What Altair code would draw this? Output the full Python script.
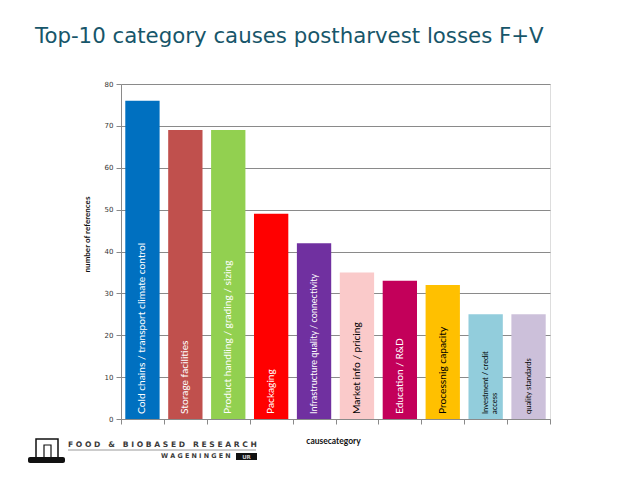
import altair as alt
import pandas as pd

categories = [
    "Cold chains / transport climate control",
    "Storage facilities",
    "Product handling / grading / sizing",
    "Packaging",
    "Infrastructure quality / connectivity",
    "Market info  / pricing",
    "Education / R&D",
    "Processnig capacity",
    "Investment / credit\naccess",
    "quality standards",
]
values = [76, 69, 69, 49, 42, 35, 33, 32, 25, 25]
y_ticks = [0, 10, 20, 30, 40, 50, 60, 70, 80]

palette = ["#0070C0", "#C0504D", "#92D050", "#FF0000", "#7030A0",
           "#FACACA", "#C3005A", "#FFC000", "#92CDDC", "#CCC0DA"]
dark_labels = ["Market info  / pricing", "Processnig capacity",
               "Investment / credit\naccess", "quality standards"]
big_labels = categories[:4] + categories[5:8]
mid_labels = [categories[4]]
small_labels = categories[8:]

title_text = "Top-10 category causes postharvest losses F+V"
logo_line1 = "FOOD & BIOBASED RESEARCH"
logo_line2 = "WAGENINGEN"
logo_box = "UR"


def spaced(s):
    # letter-spaced rendering; non-breaking spaces so SVG keeps word gaps
    return "\u00a0\u00a0\u00a0".join("\u00a0".join(w) for w in s.split(" "))


df = pd.DataFrame({"category": categories, "refs": values})

W, H = 429, 335
LEFT, TOP = 121, 84

x_enc = alt.X(
    "category:N", sort=categories,
    scale=alt.Scale(paddingInner=0, paddingOuter=0),
    axis=alt.Axis(labels=False, tickBand="extent", tickSize=5,
                  tickColor="#8a8a8a", domainColor="#8a8a8a",
                  title="causecategory", titleFont="Lato", titleFontSize=8.5,
                  titleFontWeight="bold", titleColor="#111",
                  titleY=17, titleX=212),
)
y_scale = alt.Scale(domain=[0, 80], nice=False)

base = alt.Chart(df)

bars = base.mark_bar(width=alt.RelativeBandSize(0.8)).encode(
    x=x_enc,
    y=alt.Y("refs:Q", scale=y_scale,
            axis=alt.Axis(values=y_ticks, grid=True, gridColor="#8a8a8a",
                          tickColor="#8a8a8a", domainColor="#8a8a8a",
                          tickSize=5, labelPadding=3, labelFont="DejaVu Sans",
                          labelFontSize=7, labelColor="#333",
                          title="number of references", titleFont="Lato",
                          titleFontSize=8, titleFontWeight="bold",
                          titleColor="#111", titleX=-30, titleY=150)),
    color=alt.Color("category:N", sort=categories,
                    scale=alt.Scale(domain=categories, range=palette),
                    legend=None),
)

label_color = (alt.when(alt.FieldOneOfPredicate(field="category", oneOf=dark_labels))
               .then(alt.value("#000000"))
               .otherwise(alt.value("#ffffff")))


def label_layer(names, size, dy=0):
    return base.transform_filter(
        alt.FieldOneOfPredicate(field="category", oneOf=names)
    ).mark_text(angle=270, align="left", baseline="middle", dx=5, dy=dy,
                font="Lato", fontSize=size, lineBreak="\n").encode(
        x=alt.X("category:N", sort=categories),
        y=alt.datum(0),
        text="category:N",
        color=label_color,
    )


labels_big = label_layer(big_labels, 10.2)
labels_mid = label_layer(mid_labels, 9)
labels_small = label_layer(small_labels, 7.5)

title = alt.Chart(pd.DataFrame({"t": [title_text]})).mark_text(
    align="left", baseline="alphabetic", font="DejaVu Sans", fontSize=21.3,
    color="#17566A").encode(text="t:N", x=alt.value(35 - LEFT),
                            y=alt.value(43 - TOP))

logo1 = alt.Chart(pd.DataFrame({"t": [spaced(logo_line1)]})).mark_text(
    align="left", baseline="middle", font="DejaVu Sans", fontWeight="bold",
    fontSize=7.6, color="#3a3a3a").encode(text="t:N", x=alt.value(68 - LEFT),
                                            y=alt.value(445 - TOP))
logo2 = alt.Chart(pd.DataFrame({"t": [spaced(logo_line2)]})).mark_text(
    align="left", baseline="middle", font="DejaVu Sans", fontWeight="bold",
    fontSize=6.4, color="#3a3a3a").encode(text="t:N", x=alt.value(161 - LEFT),
                                            y=alt.value(456 - TOP))
logo_rule = alt.Chart(pd.DataFrame({"t": [1]})).mark_rule(
    color="#9a9a9a", strokeWidth=1).encode(
    x=alt.value(68 - LEFT), x2=alt.value(256 - LEFT), y=alt.value(450 - TOP))
box = alt.Chart(pd.DataFrame({"t": [1]})).mark_rect(color="#111").encode(
    x=alt.value(236 - LEFT), x2=alt.value(257 - LEFT),
    y=alt.value(453 - TOP), y2=alt.value(460 - TOP))
box_text = alt.Chart(pd.DataFrame({"t": [logo_box]})).mark_text(
    align="center", baseline="middle", font="DejaVu Sans", fontWeight="bold",
    fontSize=5.5, color="#cccccc").encode(text="t:N", x=alt.value(246.5 - LEFT),
                                            y=alt.value(456.5 - TOP))
icon_frame = alt.Chart(pd.DataFrame({"t": [1]})).mark_rect(
    fill="white", fillOpacity=0, stroke="#111", strokeWidth=1.5).encode(
    x=alt.value(36 - LEFT), x2=alt.value(58 - LEFT),
    y=alt.value(439 - TOP), y2=alt.value(458 - TOP))
icon_door = alt.Chart(pd.DataFrame({"t": [1]})).mark_rect(
    fill="white", fillOpacity=0, stroke="#111", strokeWidth=1.2).encode(
    x=alt.value(44 - LEFT), x2=alt.value(51 - LEFT),
    y=alt.value(445 - TOP), y2=alt.value(458 - TOP))
icon_base = alt.Chart(pd.DataFrame({"t": [1]})).mark_rect(
    color="#111", cornerRadius=2).encode(
    x=alt.value(28 - LEFT), x2=alt.value(65 - LEFT),
    y=alt.value(457 - TOP), y2=alt.value(463 - TOP))

chart = alt.layer(
    bars, labels_big, labels_mid, labels_small, title,
    logo_rule, logo1, logo2, box, box_text, icon_frame, icon_door, icon_base,
).properties(
    width=W, height=H,
    autosize=alt.AutoSizeParams(type="none"),
    padding={"left": LEFT - 8, "top": TOP - 8, "right": 70, "bottom": 45},
).configure_view(strokeWidth=0).configure(background="white")

chart.save("out.html", embed_options={"renderer": "svg", "actions": False})
